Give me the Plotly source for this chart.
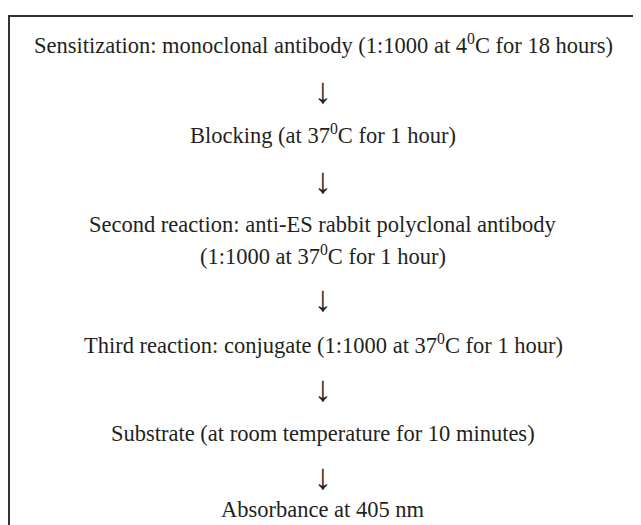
import plotly.graph_objects as go

# Flowchart content
SUP0 = "<sup>0</sup>"
steps = [
    ["Sensitization: monoclonal antibody (1:1000 at 4" + SUP0 + "C for 18 hours)"],
    ["Blocking (at 37" + SUP0 + "C for 1 hour)"],
    ["Second reaction: anti-ES rabbit polyclonal antibody",
     "(1:1000 at 37" + SUP0 + "C for 1 hour)"],
    ["Third reaction: conjugate (1:1000 at 37" + SUP0 + "C for 1 hour)"],
    ["Substrate (at room temperature for 10 minutes)"],
    ["Absorbance at 405 nm"],
]
arrow_symbol = "\u2193"

# page has an 8px body margin: figure is drawn offset by 8px
OFF = 8
W, H = 641 - OFF, 525 - OFF
FONT = "Liberation Serif, Times New Roman, serif"
FS = 22.5
COLOR = "#231f20"

# layout (page-pixel positions of each row)
step_y = [44, 134, 224, 344, 433, 509]
line_gap = 31
arrow_y = [91, 181, 299, 389, 477]
cx = 323

annotations = []
for i, lines in enumerate(steps):
    for j, txt in enumerate(lines):
        annotations.append(dict(x=cx, y=step_y[i] + j * line_gap, text=txt,
                                showarrow=False, xref="x", yref="y",
                                font=dict(family=FONT, size=FS, color=COLOR),
                                xanchor="center", yanchor="middle"))
for ay in arrow_y:
    annotations.append(dict(x=cx, y=ay, text=arrow_symbol, showarrow=False,
                            xref="x", yref="y",
                            font=dict(family=FONT, size=36, color=COLOR),
                            xanchor="center", yanchor="middle"))

fig = go.Figure()
fig.add_shape(type="rect", xref="x", yref="y", x0=9, y0=16, x1=680, y1=580,
              line=dict(color="#333333", width=2), fillcolor="rgba(0,0,0,0)")
fig.update_layout(
    width=W, height=H, margin=dict(l=0, r=0, t=0, b=0),
    paper_bgcolor="white", plot_bgcolor="white",
    xaxis=dict(range=[OFF, 641], visible=False, fixedrange=True),
    yaxis=dict(range=[525, OFF], visible=False, fixedrange=True),
    annotations=annotations, showlegend=False,
)
fig.write_html("out.html")
